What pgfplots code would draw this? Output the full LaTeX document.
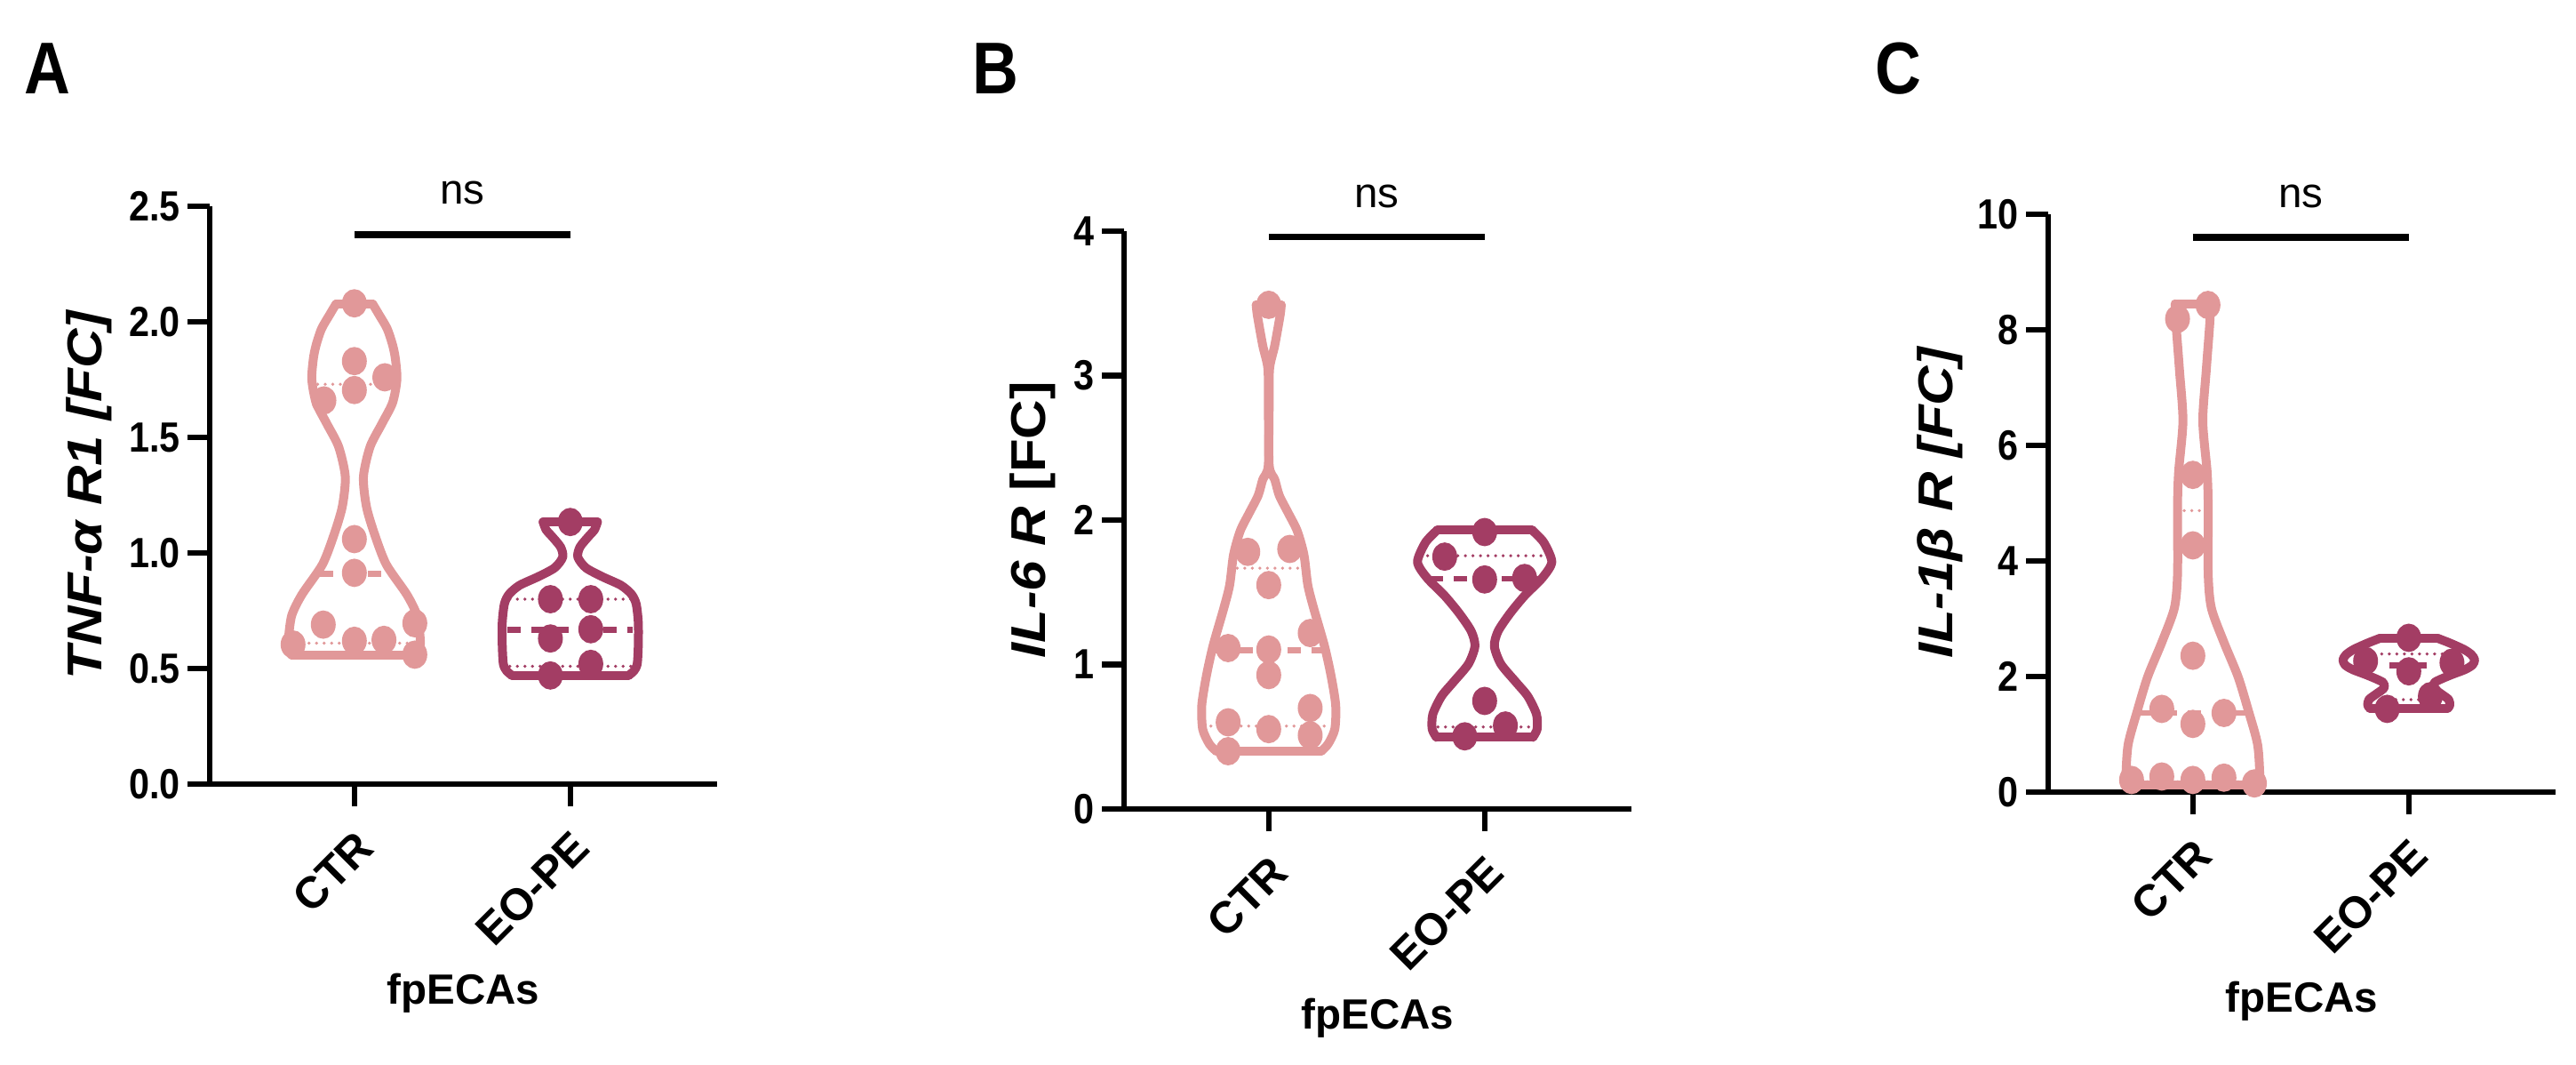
\documentclass[border=0pt]{standalone}
\usepackage{fontspec}
\setmainfont{Liberation Sans}
\newfontfamily\narrowfont{Liberation Sans}[FakeStretch=0.87]
\newfontfamily\widefont{Liberation Sans}[FakeStretch=1.12]
\usepackage{pgfplots}
\usepackage{pgfplotstable}
\pgfplotsset{compat=1.18}

\definecolor{ctr}{RGB}{225,152,153}
\definecolor{eope}{RGB}{163,61,100}

% violin outlines: y and half width w (right side, top to bottom)
\pgfplotstableread{
y w
2.077 0.085
2.03 0.115
1.97 0.152
1.90 0.177
1.84 0.19
1.75 0.197
1.65 0.177
1.56 0.128
1.46 0.073
1.33 0.042
1.20 0.056
1.08 0.094
0.95 0.148
0.82 0.243
0.73 0.29
0.63 0.305
0.58 0.303
0.558 0.29
}\actr
\pgfplotstableread{
y w
1.134 0.126
1.10 0.112
1.077 0.09
1.026 0.045
0.982 0.035
0.936 0.072
0.898 0.147
0.86 0.235
0.822 0.283
0.78 0.305
0.70 0.315
0.60 0.315
0.52 0.31
0.49 0.295
0.47 0.27
}\aeope
\pgfplotstableread{
y w
3.49 0.058
3.42 0.053
3.21 0.028
3.05 0.004
2.80 0.002
2.38 0.002
2.28 0.028
2.17 0.049
2.05 0.09
1.925 0.132
1.76 0.163
1.55 0.181
1.385 0.209
1.135 0.257
0.927 0.288
0.72 0.31
0.553 0.306
0.45 0.275
0.40 0.243
}\bctr
\pgfplotstableread{
y w
1.93 0.22
1.845 0.274
1.71 0.311
1.60 0.267
1.476 0.185
1.353 0.117
1.23 0.062
1.127 0.045
1.004 0.075
0.88 0.144
0.78 0.20
0.656 0.24
0.553 0.243
0.496 0.223
}\beope
\pgfplotstableread{
y w
8.45 0.082
8.1 0.078
7.3 0.062
6.42 0.046
5.54 0.066
4.95 0.071
3.77 0.071
3.18 0.086
2.59 0.144
2.0 0.209
1.41 0.257
0.82 0.30
0.24 0.31
0.12 0.30
}\cctr
\pgfplotstableread{
y w
2.66 0.135
2.58 0.19
2.47 0.255
2.38 0.29
2.29 0.305
2.20 0.295
2.12 0.26
2.02 0.19
1.90 0.12
1.80 0.115
1.70 0.15
1.60 0.185
1.50 0.19
1.45 0.18
}\ceope

% individual points
\pgfplotstableread{
x y
1 2.08
1 1.83
1.141 1.76
1 1.705
0.859 1.66
1 1.06
1 0.914
0.856 0.69
1.28 0.696
0.716 0.604
1 0.62
1.137 0.624
1.28 0.56
}\actrpts
\pgfplotstableread{
x y
2 1.134
1.908 0.80
2.095 0.80
1.908 0.63
2.095 0.67
2.095 0.52
1.908 0.47
}\aeopepts
\pgfplotstableread{
x y
1 3.49
0.903 1.78
1.097 1.80
1 1.55
0.812 1.114
1 1.104
1.192 1.218
1 0.927
1.192 0.699
0.812 0.60
1 0.553
1.192 0.51
0.812 0.40
}\bctrpts
\pgfplotstableread{
x y
2 1.917
1.815 1.747
2 1.589
2.185 1.599
2 0.748
2.096 0.578
1.908 0.503
}\beopepts
\pgfplotstableread{
x y
1.07 8.43
0.929 8.19
1 5.49
1 4.27
1 2.36
0.856 1.44
1.144 1.37
1 1.18
0.716 0.21
0.856 0.27
1 0.21
1.144 0.25
1.285 0.15
}\cctrpts
\pgfplotstableread{
x y
2 2.67
1.8 2.27
2.2 2.24
2 2.09
2.1 1.66
1.9 1.44
}\ceopepts

\pgfplotsset{
  violinax/.style={
    scale only axis, width=114.2pt, height=130pt,
    axis lines=left, axis line style={-, line width=1.35pt},
    xmin=0.33, xmax=2.68, ymin=0,
    enlargelimits=false, clip=false,
    xtick={1,2}, xticklabels={CTR,EO-PE},
    tick align=outside, major tick length=5pt,
    tick style={line width=1.3pt, black},
    scaled y ticks=false,
    /pgf/number format/assume math mode=true,
    xticklabel style={rotate=45, anchor=north east, font=\bfseries\fontsize{10}{12}\selectfont},
    yticklabel style={font=\narrowfont\bfseries\fontsize{9.5}{11}\selectfont, inner sep=1.5pt},
    xlabel={fpECAs},
    xlabel style={at={(axis description cs:0.5,-0.38)}, anchor=base, font=\bfseries\fontsize{9.5}{11}\selectfont},
    ylabel style={anchor=center, font=\widefont\bfseries\itshape\fontsize{11}{13}\selectfont},
  },
  side/.style={smooth, tension=0.45, line width=2pt, line cap=round, line join=round},
  rim/.style={line width=2pt, line cap=round},
  med/.style={line width=1.3pt, dash pattern=on 3pt off 2.4pt},
  quart/.style={line width=0.75pt, line cap=round, dash pattern=on 0pt off 1.7pt},
  dots/.style={only marks, mark=*, mark size=2.6pt, mark options={yscale=1.15, draw=none}},
  sig/.style={black, line width=1.5pt},
}

\begin{document}
\begin{tikzpicture}
\path (0,0) rectangle (579.8pt,239.4pt);

% ---------------- A
\begin{axis}[violinax, at={(47.2pt,63pt)}, anchor=south west,
    ymax=2.5, ytick={0,0.5,1,1.5,2,2.5},
    y tick label style={/pgf/number format/fixed, /pgf/number format/fixed zerofill, /pgf/number format/precision=1},
    ylabel={TNF-α R1 [FC]},
    ylabel style={at={(axis description cs:-0.238,0.5)}}]
\addplot[ctr, side] table[x expr=1+\thisrow{w}, y=y] {\actr};
\addplot[ctr, side] table[x expr=1-\thisrow{w}, y=y] {\actr};
\addplot[ctr, rim] coordinates {(0.915,2.077) (1.085,2.077)};
\addplot[ctr, rim] coordinates {(0.71,0.558) (1.29,0.558)};
\addplot[ctr, quart] coordinates {(0.83,1.73) (1.17,1.73)};
\addplot[ctr, med] coordinates {(0.84,0.91) (1.16,0.91)};
\addplot[ctr, quart] coordinates {(0.72,0.61) (1.28,0.61)};
\addplot[eope, side] table[x expr=2+\thisrow{w}, y=y] {\aeope};
\addplot[eope, side] table[x expr=2-\thisrow{w}, y=y] {\aeope};
\addplot[eope, rim] coordinates {(1.874,1.134) (2.126,1.134)};
\addplot[eope, rim] coordinates {(1.73,0.47) (2.27,0.47)};
\addplot[eope, quart] coordinates {(1.72,0.80) (2.28,0.80)};
\addplot[eope, med] coordinates {(1.71,0.667) (2.29,0.667)};
\addplot[eope, quart] coordinates {(1.72,0.51) (2.28,0.51)};
\addplot[ctr, dots] table[x=x, y=y] {\actrpts};
\addplot[eope, dots] table[x=x, y=y] {\aeopepts};
\addplot[sig] coordinates {(1,2.377) (2,2.377)};
\node[anchor=base, font=\fontsize{9.5}{11}\selectfont] at (axis cs:1.5,2.51) {ns};
\end{axis}

% ---------------- B
\begin{axis}[violinax, at={(253pt,57.4pt)}, anchor=south west,
    ymax=4, ytick={0,1,2,3,4},
    ylabel={IL-6 R \textup{[FC]}},
    ylabel style={at={(axis description cs:-0.18,0.5)}}]
\addplot[ctr, side] table[x expr=1+\thisrow{w}, y=y] {\bctr};
\addplot[ctr, side] table[x expr=1-\thisrow{w}, y=y] {\bctr};
\addplot[ctr, rim] coordinates {(0.942,3.49) (1.058,3.49)};
\addplot[ctr, rim] coordinates {(0.757,0.40) (1.243,0.40)};
\addplot[ctr, quart] coordinates {(0.854,1.667) (1.146,1.667)};
\addplot[ctr, med] coordinates {(0.753,1.10) (1.247,1.10)};
\addplot[ctr, quart] coordinates {(0.732,0.574) (1.268,0.574)};
\addplot[eope, side] table[x expr=2+\thisrow{w}, y=y] {\beope};
\addplot[eope, side] table[x expr=2-\thisrow{w}, y=y] {\beope};
\addplot[eope, rim] coordinates {(1.78,1.93) (2.22,1.93)};
\addplot[eope, rim] coordinates {(1.777,0.496) (2.223,0.496)};
\addplot[eope, quart] coordinates {(1.736,1.753) (2.264,1.753)};
\addplot[eope, med] coordinates {(1.746,1.595) (2.254,1.595)};
\addplot[eope, quart] coordinates {(1.784,0.568) (2.216,0.568)};
\addplot[ctr, dots] table[x=x, y=y] {\bctrpts};
\addplot[eope, dots] table[x=x, y=y] {\beopepts};
\addplot[sig] coordinates {(1,3.96) (2,3.96)};
\node[anchor=base, font=\fontsize{9.5}{11}\selectfont] at (axis cs:1.5,4.165) {ns};
\end{axis}

% ---------------- C
\begin{axis}[violinax, at={(461pt,61.2pt)}, anchor=south west,
    ymax=10, ytick={0,2,4,6,8,10},
    ylabel={IL-1β R [FC]},
    ylabel style={at={(axis description cs:-0.214,0.5)}}]
\addplot[ctr, side] table[x expr=1+\thisrow{w}, y=y] {\cctr};
\addplot[ctr, side] table[x expr=1-\thisrow{w}, y=y] {\cctr};
\addplot[ctr, rim] coordinates {(0.918,8.45) (1.082,8.45)};
\addplot[ctr, rim] coordinates {(0.70,0.12) (1.30,0.12)};
\addplot[ctr, quart] coordinates {(0.96,4.87) (1.04,4.87)};
\addplot[ctr, med] coordinates {(0.753,1.37) (1.247,1.37)};
\addplot[ctr, quart] coordinates {(0.72,0.18) (1.28,0.18)};
\addplot[eope, side] table[x expr=2+\thisrow{w}, y=y] {\ceope};
\addplot[eope, side] table[x expr=2-\thisrow{w}, y=y] {\ceope};
\addplot[eope, rim] coordinates {(1.865,2.66) (2.135,2.66)};
\addplot[eope, rim] coordinates {(1.82,1.45) (2.18,1.45)};
\addplot[eope, quart] coordinates {(1.84,2.39) (2.16,2.39)};
\addplot[eope, med] coordinates {(1.91,2.19) (2.09,2.19)};
\addplot[eope, quart] coordinates {(1.94,1.60) (2.06,1.60)};
\addplot[ctr, dots] table[x=x, y=y] {\cctrpts};
\addplot[eope, dots] table[x=x, y=y] {\ceopepts};
\addplot[sig] coordinates {(1,9.6) (2,9.6)};
\node[anchor=base, font=\fontsize{9.5}{11}\selectfont] at (axis cs:1.5,10.12) {ns};
\end{axis}

\node[font=\narrowfont\bfseries\fontsize{16.5}{19}\selectfont] at (10.6pt,224pt) {A};
\node[font=\narrowfont\bfseries\fontsize{16.5}{19}\selectfont] at (224pt,224pt) {B};
\node[font=\narrowfont\bfseries\fontsize{16.5}{19}\selectfont] at (427.2pt,224pt) {C};
\end{tikzpicture}
\end{document}
